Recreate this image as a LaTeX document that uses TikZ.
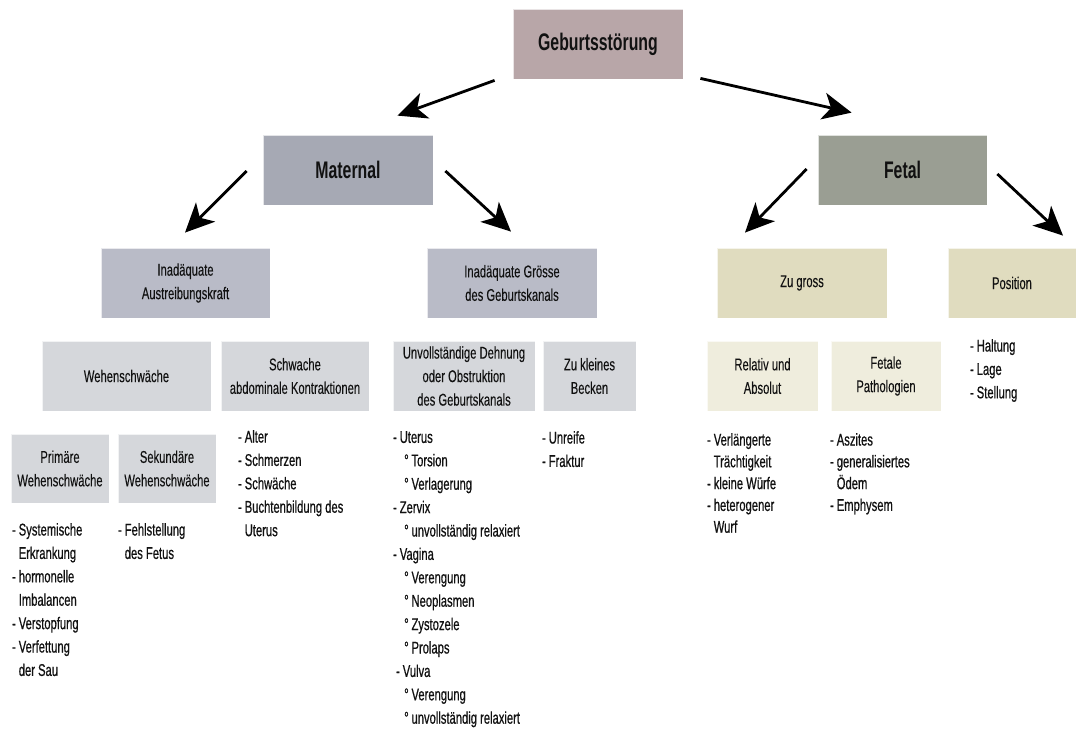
\documentclass[tikz,border=0pt]{standalone}
\usepackage{fontspec}
\setmainfont{Liberation Sans}[FakeStretch=0.66, UprightFeatures={FakeBold=0.6}]
\usetikzlibrary{arrows.meta,calc}
\definecolor{cGeb}{HTML}{B8A6A8}
\definecolor{cMat}{HTML}{A6A9B4}
\definecolor{cFet}{HTML}{9A9E93}
\definecolor{cMatB}{HTML}{B9BBC7}
\definecolor{cFetB}{HTML}{E0DCBF}
\definecolor{cMatC}{HTML}{D5D7DB}
\definecolor{cFetC}{HTML}{EFEDDD}
\definecolor{txt}{HTML}{111111}
\newcommand{\hind}{\hphantom{-\,}}
\newcommand{\sub}{\hspace*{11pt}°\,}
\tikzset{
  box/.style={rectangle, inner sep=0pt, align=center, text=txt,
    draw=white, draw opacity=0.7, line width=0.8pt,
    font=\fontsize{17}{23.5}\selectfont},
  topbox/.style={box, minimum width=170pt, minimum height=70pt,
    font=\fontsize{24}{26}\selectfont\bfseries},
  midbox/.style={box, minimum height=70pt},
  lowbox/.style={box, minimum height=69pt},
  itemlist/.style={inner sep=0pt, anchor=north west, align=left, text=txt,
    font=\fontsize{17}{23.4}\selectfont},
  arr/.style={line width=2.8pt, -{Stealth[length=29pt,width=27pt,inset=8pt]}}
}
\begin{document}
\begin{tikzpicture}[x=1pt,y=-1pt]
\useasboundingbox (0,0) rectangle (1076,731);
\fill[white] (0,0) rectangle (1076,731);

% level 1
\node[topbox, fill=cGeb] (geb) at (598,44) {Geburtsst\"orung};
% level 2
\node[topbox, fill=cMat] (mat) at (348,170) {Maternal};
\node[topbox, fill=cFet, minimum width=169pt] (fet) at (902.5,170) {Fetal};
% level 3
\node[midbox, fill=cMatB, minimum width=169pt] (ina) at (185.5,283) {Inad\"aquate\\Austreibungskraft};
\node[midbox, fill=cMatB, minimum width=170pt] (ing) at (512,283) {Inad\"aquate Gr\"osse\\des Geburtskanals};
\node[midbox, fill=cFetB, minimum width=170pt] (zug) at (802,283) {Zu gross};
\node[midbox, fill=cFetB, minimum width=128pt] (pos) at (1012,283) {Position};
% level 4
\node[midbox, fill=cMatC, minimum width=169pt] (weh) at (126.5,376) {Wehenschw\"ache};
\node[midbox, fill=cMatC, minimum width=148pt] (sch) at (295,376) {Schwache\\abdominale Kontraktionen};
\node[midbox, fill=cMatC, minimum width=142pt] (unv) at (464,376) {Unvollst\"andige Dehnung\\oder Obstruktion\\des Geburtskanals};
\node[midbox, fill=cMatC, minimum width=93pt] (zkb) at (589.5,376) {Zu kleines\\Becken};
\node[midbox, fill=cFetC, minimum width=111pt] (rel) at (762.5,376) {Relativ und\\Absolut};
\node[midbox, fill=cFetC, minimum width=110pt] (fpa) at (886,376) {Fetale\\Pathologien};
% level 5
\node[lowbox, fill=cMatC, minimum width=98pt] (pri) at (60,468.5) {Prim\"are\\Wehenschw\"ache};
\node[lowbox, fill=cMatC, minimum width=98pt] (sek) at (167,468.5) {Sekund\"are\\Wehenschw\"ache};

% lists
\node[itemlist] (lpri) at (12,523) {-\,Systemische\\\hind Erkrankung\\-\,hormonelle\\\hind Imbalancen\\-\,Verstopfung\\-\,Verfettung\\\hind der Sau};
\node[itemlist] (lsek) at (118,523) {-\,Fehlstellung\\\hind des Fetus};
\node[itemlist] (lsch) at (238,430) {-\,Alter\\-\,Schmerzen\\-\,Schw\"ache\\-\,Buchtenbildung des\\\hind Uterus};
\node[itemlist] (lunv) at (393,431) {-\,Uterus\\\sub Torsion\\\sub Verlagerung\\-\,Zervix\\\sub unvollst\"andig relaxiert\\-\,Vagina\\\sub Verengung\\\sub Neoplasmen\\\sub Zystozele\\\sub Prolaps\\\hspace*{3pt}-\,Vulva\\\sub Verengung\\\sub unvollst\"andig relaxiert};
\node[itemlist] (lzkb) at (542,431) {-\,Unreife\\-\,Fraktur};
\node[itemlist, font=\fontsize{17}{21.8}\selectfont] (lrel) at (707,433) {-\,Verl\"angerte\\\hind Tr\"achtigkeit\\-\,kleine W\"urfe\\-\,heterogener\\\hind Wurf};
\node[itemlist, font=\fontsize{17}{21.8}\selectfont] (lfpa) at (830,433) {-\,Aszites\\-\,generalisiertes\\\hind \"Odem\\-\,Emphysem};
\node[itemlist] (lpos) at (970,339) {-\,Haltung\\-\,Lage\\-\,Stellung};

% arrows
\draw[arr] ($(geb.south west)+(-18,1)$) -- ($(mat.north east)+(-36,-19)$);
\draw[arr] ($(geb.south east)+(17,-1)$) -- ($(fet.north west)+(34,-22)$);
\draw[arr] ($(mat.west)+(-16,1)$) -- ($(ina.north)+(-0.5,-15)$);
\draw[arr] ($(mat.east)+(12,1)$) -- ($(ing.north)+(-1,-16)$);
\draw[arr] ($(fet.west)+(-11,-1)$) -- ($(zug.north)+(-57,-15)$);
\draw[arr] ($(fet.east)+(10,4)$) -- ($(pos.north)+(51,-12)$);
\end{tikzpicture}
\end{document}
